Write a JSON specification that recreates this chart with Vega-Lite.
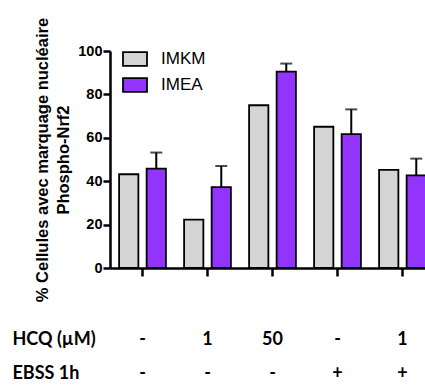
{
  "$schema": "https://vega.github.io/schema/vega-lite/v6.json",
  "autosize": "none",
  "width": 325,
  "height": 217,
  "padding": {"left": 110, "top": 51, "right": 0, "bottom": 117},
  "background": "white",
  "config": {"view": {"stroke": null}},
  "data": {"values": [
    {"grp": "-|-", "serie": "IMKM", "value": 43.2, "upper": null},
    {"grp": "-|-", "serie": "IMEA", "value": 45.8, "upper": 53.2},
    {"grp": "1|-", "serie": "IMKM", "value": 22.3, "upper": null},
    {"grp": "1|-", "serie": "IMEA", "value": 37.3, "upper": 47},
    {"grp": "50|-", "serie": "IMKM", "value": 75, "upper": null},
    {"grp": "50|-", "serie": "IMEA", "value": 90.5, "upper": 94.2},
    {"grp": "-|+", "serie": "IMKM", "value": 65.1, "upper": null},
    {"grp": "-|+", "serie": "IMEA", "value": 61.7, "upper": 73.1},
    {"grp": "1|+", "serie": "IMKM", "value": 45.2, "upper": null},
    {"grp": "1|+", "serie": "IMEA", "value": 42.7, "upper": 50.4}
  ]},
  "encoding": {
    "x": {
      "field": "grp", "type": "nominal", "sort": null,
      "scale": {"paddingInner": 0.28, "paddingOuter": 0.14},
      "axis": {
        "title": ["HCQ (µM)", "EBSS 1h"],
        "titleFont": "Lato", "titleFontSize": 18, "titleFontWeight": "bold", "titleColor": "black",
        "titleAnchor": "start", "titleAlign": "left", "titleBaseline": "top",
        "titleX": -98, "titleY": 62, "titleLineHeight": 34, "titleAngle": 0,
        "labelExpr": "split(datum.label, '|')",
        "labelFont": "Lato", "labelFontSize": 18, "labelFontWeight": "bold", "labelColor": "black",
        "labelLineHeight": 34, "labelBaseline": "top", "labelPadding": 54, "labelAngle": 0,
        "domainColor": "black", "domainWidth": 2.5,
        "tickColor": "black", "tickWidth": 2.5, "tickSize": 8
      }
    },
    "xOffset": {"field": "serie", "type": "nominal", "sort": ["IMKM", "IMEA"], "scale": {"paddingInner": 0.3, "paddingOuter": 0}}
  },
  "layer": [
    {
      "transform": [{"filter": "datum.upper != null"}],
      "mark": {"type": "rule", "color": "black", "strokeWidth": 2},
      "encoding": {
        "y": {"field": "value", "type": "quantitative"},
        "y2": {"field": "upper"}
      }
    },
    {
      "transform": [{"filter": "datum.upper != null"}],
      "mark": {"type": "tick", "color": "black", "thickness": 2, "size": 12, "orient": "horizontal"},
      "encoding": {
        "y": {"field": "upper", "type": "quantitative"}
      }
    },
    {
      "mark": {"type": "bar", "stroke": "black", "strokeWidth": 1.8},
      "encoding": {
        "y": {
          "field": "value", "type": "quantitative",
          "scale": {"domain": [0, 100]},
          "axis": {
            "title": ["% Cellules avec marquage nucléaire", "Phospho-Nrf2"],
            "titleFont": "Liberation Sans", "titleFontSize": 16.5, "titleFontWeight": "bold", "titleColor": "black",
            "titleLineHeight": 21, "titlePadding": 6,
            "values": [0, 20, 40, 60, 80, 100], "grid": false,
            "labelFont": "Liberation Sans", "labelFontSize": 14.5, "labelFontWeight": "bold", "labelColor": "black",
            "labelPadding": 1,
            "domainColor": "black", "domainWidth": 2.5,
            "tickColor": "black", "tickWidth": 2.5, "tickSize": 7
          }
        },
        "fill": {
          "field": "serie", "type": "nominal",
          "scale": {"domain": ["IMKM", "IMEA"], "range": ["#d4d4d4", "#9234fb"]},
          "legend": {
            "title": null, "orient": "none", "legendX": 12, "legendY": -5,
            "symbolType": "M-1,-0.58L1,-0.58L1,0.58L-1,0.58Z", "symbolSize": 576,
            "symbolStrokeColor": "black", "symbolStrokeWidth": 1.8,
            "labelFont": "Liberation Sans", "labelFontSize": 17, "labelColor": "black",
            "labelOffset": 13, "rowPadding": 2
          }
        }
      }
    }
  ]
}
